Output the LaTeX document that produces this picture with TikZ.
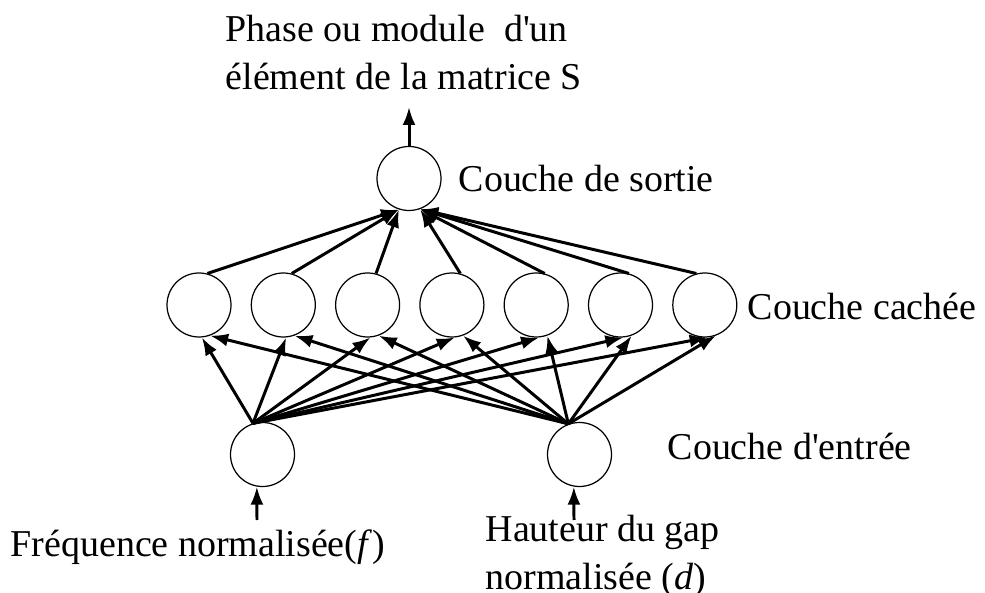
\documentclass[tikz,border=0pt]{standalone}
\usepackage{fontspec}
\setmainfont{Liberation Serif}
\usetikzlibrary{arrows.meta}
\tikzset{
  neuron/.style={circle,draw,line width=0.35pt,minimum size=6.4mm,inner sep=0pt},
  link/.style={-{Latex[length=1.8mm,width=1.3mm]},line width=0.85pt},
  lbl/.style={font=\fontsize{10.8}{13.65}\selectfont,inner sep=0pt,align=left}
}

\begin{document}
\begin{tikzpicture}
  \useasboundingbox (0,0) rectangle (9.85,5.92);
  % neurones
  \node[neuron] (out) at (4.09,4.135) {};
  \foreach \k in {1,...,7} {\node[neuron] (h\k) at ({1.99+0.843*(\k-1)},2.87) {};}
  \node[neuron] (in1) at (2.625,1.375) {};
  \node[neuron] (in2) at (5.795,1.375) {};
  % entrees -> couche cachee
  \foreach \k in {1,...,7} {
    \draw[link] (in1.107) -- (h\k.-85);
    \draw[link] (in2.110) -- (h\k.-70);}
  % couche cachee -> sortie
  \foreach \k in {1,2,3} {\draw[link] (h\k.75) -- (out.-108);}
  \foreach \k in {4,5,6} {\draw[link] (h\k.75) -- (out.-70);}
  \draw[link] (h7.105) -- (out.-70);
  % sortie et entrees
  \coordinate (res) at (4.09,4.85);
  \draw[link] (out.north) -- (res);
  \coordinate (fin) at (2.57,0.72);
  \coordinate (din) at (5.74,0.72);
  \draw[link] (fin) -- (in1.-100);
  \draw[link] (din) -- (in2.-100);
  % textes
  \node[lbl,anchor=north west] (titre) at (2.25,5.78)
       {Phase ou module \ d\textquotesingle un\\élément de la matrice S};
  \node[lbl,anchor=base west] (lsortie) at (4.58,4.00) {Couche de sortie};
  \node[lbl,anchor=base west] (lcachee) at (7.47,2.72) {Couche cachée};
  \node[lbl,anchor=base west] (lentree) at (6.67,1.32) {Couche d\textquotesingle entrée};
  \node[lbl,anchor=base west] (lfreq) at (0.10,0.35)
       {Fréquence normalisée(\textit{f})};
  \node[lbl,anchor=north west] (lgap) at (4.85,0.78)
       {Hauteur du gap\\normalisée (\textit{d})};
\end{tikzpicture}
\end{document}
